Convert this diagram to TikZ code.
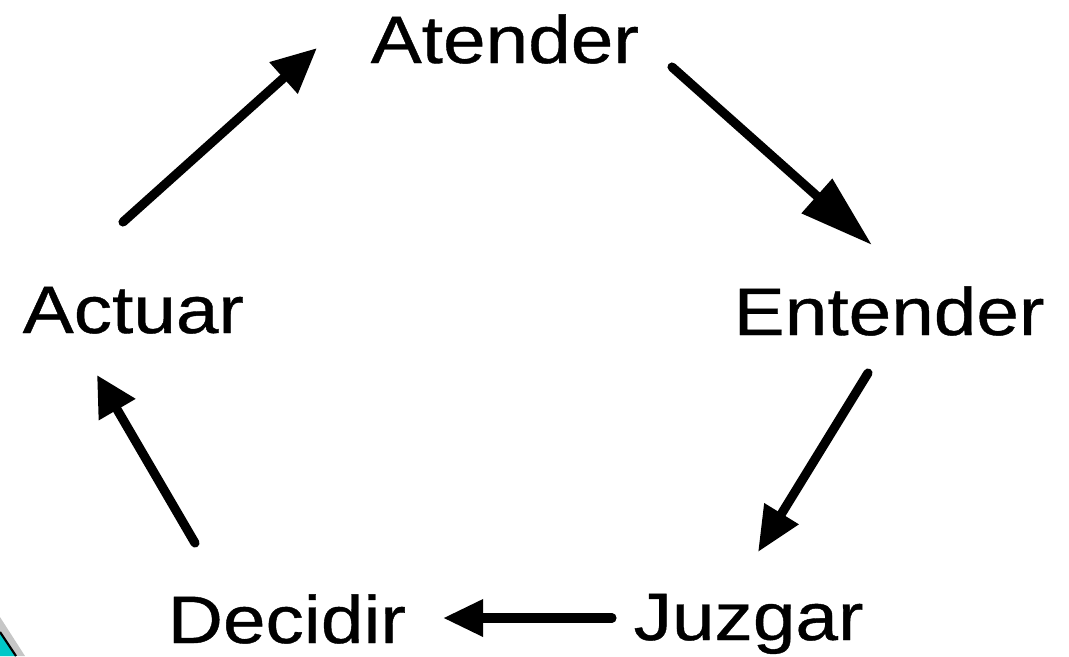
\documentclass[tikz,border=0pt]{standalone}
\usepackage{fontspec}
\setmainfont{Liberation Sans}[FakeStretch=1.14,FakeBold=0.6]
\usetikzlibrary{arrows.meta}
\definecolor{turquesa}{RGB}{0,200,200}
\tikzset{
  etapa/.style={anchor=base west,inner sep=0pt,font=\fontsize{19.1}{23}\selectfont},
  flecha/.style={line width=2.6pt,line cap=round},
}
\begin{document}
\begin{tikzpicture}[x=0.01cm,y=-0.01cm]
      \useasboundingbox (0,0) rectangle (1069,656);
      % corner of the slide background
      \fill[gray!45] (0,617) -- (25,656) -- (0,656) -- cycle;
      \fill[turquesa] (0,632) -- (16,656) -- (0,656) -- cycle;
      \draw[line width=0.6pt] (0,632) -- (16,656);
      \draw
        (370,63) node[etapa] (atender){Atender}
        (733,335) node[etapa] (entender){Entender}
        (633,640) node[etapa] (juzgar){Juzgar}
        (167,643) node[etapa] (decidir){Decidir}
        (22,333) node[etapa] (actuar){Actuar};
      \path
        (123,222) coordinate (actuar-out)
        (317,48) coordinate (atender-in)
        (672,67) coordinate (atender-out)
        (872,245) coordinate (entender-in)
        (868,373) coordinate (entender-out)
        (758,552) coordinate (juzgar-in)
        (612,618) coordinate (juzgar-out)
        (443,618) coordinate (decidir-in)
        (195,543) coordinate (decidir-out)
        (97,375) coordinate (actuar-in);
      \begin{scope}[flecha]
        \draw[-{Triangle[length=12.8pt,width=11.4pt]}] (actuar-out) to (atender-in);
        \draw[-{Triangle[length=21pt,width=12.5pt]}] (atender-out) to (entender-in);
        \draw[-{Triangle[length=12.8pt,width=10.8pt]}] (entender-out) to (juzgar-in);
        \draw[-{Triangle[length=11.4pt,width=10pt]}] (juzgar-out) to (decidir-in);
        \draw[-{Triangle[length=11.4pt,width=11.4pt]}] (decidir-out) to (actuar-in);
      \end{scope}
    \end{tikzpicture}
\end{document}
